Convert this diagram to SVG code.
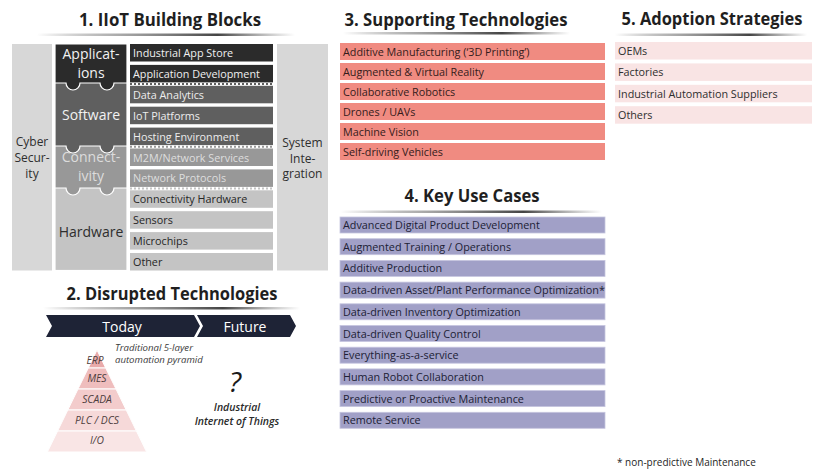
<svg xmlns="http://www.w3.org/2000/svg" width="819" height="471" viewBox="0 0 819 471">
  <defs>
    <linearGradient id="rule" x1="0" y1="0" x2="1" y2="0">
      <stop offset="0" stop-color="#666" stop-opacity="0"/>
      <stop offset="0.25" stop-color="#888" stop-opacity="0.6"/>
      <stop offset="0.7" stop-color="#444" stop-opacity="1"/>
      <stop offset="1" stop-color="#666" stop-opacity="0"/>
    </linearGradient>
  </defs>
  <style>
    text { font-family: "Open Sans", "Liberation Sans", sans-serif; }
    .title { font-size: 18px; font-weight: bold; fill: #1f1f1f; text-anchor: middle; }
    .item { font-size: 10.8px; }
    .side { fill: #d7d7d7; }
    .sideTxt { font-size: 12px; fill: #2e2e2e; text-anchor: middle; }
    .layerTxt { font-size: 14px; text-anchor: middle; }
    .app { fill: #2b2b2b; }
    .sw { fill: #5f5f5f; }
    .con { fill: #989898; }
    .hw { fill: #c4c4c4; }
    .layer { stroke: #fff; stroke-width: 1.2; }
    .dots { stroke-width: 2; stroke-dasharray: 2 2; }
    .sup { fill: #f08b81; }
    .supTxt { fill: #341b1b; }
    .use { fill: #a1a0c7; stroke: #c6c5df; stroke-width: 0.8; }
    .useTxt { fill: #202035; }
    .ado { fill: #f9e4e4; }
    .adoTxt { fill: #2e2e2e; }
    .pyr { stroke: #fff; stroke-width: 1; }
    .pyrTxt { font-size: 10.3px; font-style: italic; fill: #4e3e3e; text-anchor: middle; }
    .note { font-size: 9.6px; font-style: italic; fill: #3a3a3a; }
    .iiot { font-size: 10.5px; font-weight: 600; font-style: italic; fill: #2a2a2a; text-anchor: middle; }
  </style>

  <!-- ===== 1. IIoT Building Blocks ===== -->
  <g id="sec1-title">
    <text class="title" x="170" y="26" textLength="182" lengthAdjust="spacingAndGlyphs">1. IIoT Building Blocks</text>
    <rect x="37" y="33.5" width="258" height="2.5" fill="url(#rule)"/>
  </g>

  <g id="cyber-security">
    <rect class="side" x="12" y="44" width="40" height="226.5"/>
    <text class="sideTxt" x="32" y="146">Cyber</text>
    <text class="sideTxt" x="32" y="162">Secur-</text>
    <text class="sideTxt" x="32" y="178">ity</text>
  </g>

  <g id="system-integration">
    <rect class="side" x="277" y="44" width="51" height="226.5"/>
    <text class="sideTxt" x="302.5" y="147">System</text>
    <text class="sideTxt" x="302.5" y="162.5">Inte-</text>
    <text class="sideTxt" x="302.5" y="178">gration</text>
  </g>

  <!-- stacked layers, drawn bottom-up so each layer's tabs overlap the one below -->
  <g id="layer-hardware">
    <rect class="hw layer" x="55" y="185" width="72" height="85.5"/>
    <text class="layerTxt" x="91" y="237" fill="#2e2e2e">Hardware</text>
  </g>
  <g id="layer-connectivity">
    <path class="con layer" d="M55,141 H127 V188 H114 A7,7 0 0 1 100,188 H80 A7,7 0 0 1 66,188 H55 Z"/>
    <text class="layerTxt" x="91" y="162" fill="#dcdcdc">Connect-</text>
    <text class="layerTxt" x="91" y="180.5" fill="#dcdcdc">ivity</text>
  </g>
  <g id="layer-software">
    <path class="sw layer" d="M55,80 H127 V146 H114 A7,7 0 0 1 100,146 H80 A7,7 0 0 1 66,146 H55 Z"/>
    <text class="layerTxt" x="91" y="120" fill="#f2f2f2">Software</text>
  </g>
  <g id="layer-applications">
    <path class="app layer" d="M55,44 H127 V83 H114 A7,7 0 0 1 100,83 H80 A7,7 0 0 1 66,83 H55 Z"/>
    <text class="layerTxt" x="91" y="59" fill="#f2f2f2">Applicat-</text>
    <text class="layerTxt" x="91" y="78" fill="#f2f2f2">ions</text>
  </g>

  <g id="block-items">
    <g id="item-app-store"><rect class="app" x="130" y="44" width="143" height="17.5"/><text class="item" x="133" y="57" fill="#f0f0f0">Industrial App Store</text></g>
    <g id="item-app-dev"><rect class="app" x="130" y="64.9" width="143" height="17.5"/><text class="item" x="133" y="77.9" fill="#f0f0f0">Application Development</text></g>
    <g id="item-analytics"><rect class="sw" x="130" y="85.8" width="143" height="17.5"/><text class="item" x="133" y="98.8" fill="#ededed">Data Analytics</text></g>
    <g id="item-iot-platforms"><rect class="sw" x="130" y="106.7" width="143" height="17.5"/><text class="item" x="133" y="119.7" fill="#ededed">IoT Platforms</text></g>
    <g id="item-hosting"><rect class="sw" x="130" y="127.6" width="143" height="17.5"/><text class="item" x="133" y="140.6" fill="#ededed">Hosting Environment</text></g>
    <g id="item-m2m"><rect class="con" x="130" y="148.5" width="143" height="17.5"/><text class="item" x="133" y="161.5" fill="#dedede">M2M/Network Services</text></g>
    <g id="item-protocols"><rect class="con" x="130" y="169.4" width="143" height="17.5"/><text class="item" x="133" y="182.4" fill="#dedede">Network Protocols</text></g>
    <g id="item-conn-hw"><rect class="hw" x="130" y="190.3" width="143" height="17.5"/><text class="item" x="133" y="203.3" fill="#262626">Connectivity Hardware</text></g>
    <g id="item-sensors"><rect class="hw" x="130" y="211.2" width="143" height="17.5"/><text class="item" x="133" y="224.2" fill="#262626">Sensors</text></g>
    <g id="item-microchips"><rect class="hw" x="130" y="232.1" width="143" height="17.5"/><text class="item" x="133" y="245.1" fill="#262626">Microchips</text></g>
    <g id="item-other"><rect class="hw" x="130" y="253" width="143" height="17.5"/><text class="item" x="133" y="266" fill="#262626">Other</text></g>
  </g>

  <!-- dotted seams between layers -->
  <g id="connectors">
    <line class="dots" x1="130" y1="84.1" x2="273" y2="84.1" stroke="#5f5f5f"/>
    <line class="dots" x1="130" y1="146.8" x2="273" y2="146.8" stroke="#989898"/>
    <line class="dots" x1="130" y1="188.6" x2="273" y2="188.6" stroke="#c4c4c4"/>
  </g>

  <!-- ===== 2. Disrupted Technologies ===== -->
  <g id="sec2-title">
    <text class="title" x="172" y="300" textLength="211" lengthAdjust="spacingAndGlyphs">2. Disrupted Technologies</text>
    <rect x="43" y="307" width="257" height="2.5" fill="url(#rule)"/>
  </g>

  <g id="today">
    <polygon points="46,315 194,315 200,326 194,337 46,337 52,326" fill="#1e2336"/>
    <text x="122" y="332" font-size="14" fill="#fff" text-anchor="middle">Today</text>
  </g>
  <g id="future">
    <polygon points="197,315 290,315 296,326 290,337 197,337 203,326" fill="#1e2336"/>
    <text x="245" y="332" font-size="14" fill="#fff" text-anchor="middle">Future</text>
  </g>

  <g id="pyramid">
    <polygon class="pyr" points="97,350 105.7,368 88.3,368" fill="#e9aaaa"/>
    <polygon class="pyr" points="88.3,368 105.7,368 116,389 78,389" fill="#efbdbd"/>
    <polygon class="pyr" points="78,389 116,389 126.2,410 67.8,410" fill="#f3cccc"/>
    <polygon class="pyr" points="67.8,410 126.2,410 136.4,431 57.6,431" fill="#f6d9d9"/>
    <polygon class="pyr" points="57.6,431 136.4,431 146.6,452 47.4,452" fill="#f9e5e5"/>
    <text class="pyrTxt" x="95" y="364">ERP</text>
    <text class="pyrTxt" x="97" y="382">MES</text>
    <text class="pyrTxt" x="97" y="403">SCADA</text>
    <text class="pyrTxt" x="97" y="424">PLC / DCS</text>
    <text class="pyrTxt" x="97" y="444">I/O</text>
    <text class="note" x="115" y="351">Traditional 5-layer</text>
    <text class="note" x="115" y="363">automation pyramid</text>
  </g>

  <g id="iiot">
    <text x="235" y="392" font-size="28" font-style="italic" fill="#1a1a1a" text-anchor="middle">?</text>
    <text class="iiot" x="237" y="411">Industrial</text>
    <text class="iiot" x="237" y="424.5">Internet of Things</text>
  </g>

  <!-- ===== 3. Supporting Technologies ===== -->
  <g id="sec3-title">
    <text class="title" x="456" y="26" textLength="223" lengthAdjust="spacingAndGlyphs">3. Supporting Technologies</text>
    <rect x="343" y="32" width="227" height="2.5" fill="url(#rule)"/>
  </g>
  <g id="supporting">
    <g id="sup-am"><rect class="sup" x="340" y="43" width="265" height="17"/><text class="item supTxt" x="343" y="55.5">Additive Manufacturing (‘3D Printing’)</text></g>
    <g id="sup-ar"><rect class="sup" x="340" y="63" width="265" height="17"/><text class="item supTxt" x="343" y="75.5">Augmented &amp; Virtual Reality</text></g>
    <g id="sup-robotics"><rect class="sup" x="340" y="83" width="265" height="17"/><text class="item supTxt" x="343" y="95.5">Collaborative Robotics</text></g>
    <g id="sup-drones"><rect class="sup" x="340" y="103" width="265" height="17"/><text class="item supTxt" x="343" y="115.5">Drones / UAVs</text></g>
    <g id="sup-vision"><rect class="sup" x="340" y="123" width="265" height="17"/><text class="item supTxt" x="343" y="135.5">Machine Vision</text></g>
    <g id="sup-vehicles"><rect class="sup" x="340" y="143" width="265" height="17"/><text class="item supTxt" x="343" y="155.5">Self-driving Vehicles</text></g>
  </g>

  <!-- ===== 4. Key Use Cases ===== -->
  <g id="sec4-title">
    <text class="title" x="472" y="202" textLength="135" lengthAdjust="spacingAndGlyphs">4. Key Use Cases</text>
    <rect x="340" y="210.5" width="262" height="2.5" fill="url(#rule)"/>
  </g>
  <g id="use-cases">
    <g id="uc-1"><rect class="use" x="340" y="217" width="265" height="16"/><text class="item useTxt" x="343" y="229">Advanced Digital Product Development</text></g>
    <g id="uc-2"><rect class="use" x="340" y="238.7" width="265" height="16"/><text class="item useTxt" x="343" y="250.7">Augmented Training / Operations</text></g>
    <g id="uc-3"><rect class="use" x="340" y="260.4" width="265" height="16"/><text class="item useTxt" x="343" y="272.4">Additive Production</text></g>
    <g id="uc-4"><rect class="use" x="340" y="282.1" width="265" height="16"/><text class="item useTxt" x="343" y="294.1" textLength="262" lengthAdjust="spacingAndGlyphs">Data-driven Asset/Plant Performance Optimization*</text></g>
    <g id="uc-5"><rect class="use" x="340" y="303.8" width="265" height="16"/><text class="item useTxt" x="343" y="315.8">Data-driven Inventory Optimization</text></g>
    <g id="uc-6"><rect class="use" x="340" y="325.5" width="265" height="16"/><text class="item useTxt" x="343" y="337.5">Data-driven Quality Control</text></g>
    <g id="uc-7"><rect class="use" x="340" y="347.2" width="265" height="16"/><text class="item useTxt" x="343" y="359.2">Everything-as-a-service</text></g>
    <g id="uc-8"><rect class="use" x="340" y="368.9" width="265" height="16"/><text class="item useTxt" x="343" y="380.9">Human Robot Collaboration</text></g>
    <g id="uc-9"><rect class="use" x="340" y="390.6" width="265" height="16"/><text class="item useTxt" x="343" y="402.6">Predictive or Proactive Maintenance</text></g>
    <g id="uc-10"><rect class="use" x="340" y="412.3" width="265" height="16"/><text class="item useTxt" x="343" y="424.3">Remote Service</text></g>
  </g>

  <!-- ===== 5. Adoption Strategies ===== -->
  <g id="sec5-title">
    <text class="title" x="712" y="25" textLength="181" lengthAdjust="spacingAndGlyphs">5. Adoption Strategies</text>
    <rect x="615" y="33.5" width="192" height="2.5" fill="url(#rule)"/>
  </g>
  <g id="adoption">
    <g id="ado-oems"><rect class="ado" x="615" y="42" width="197" height="17.5"/><text class="item adoTxt" x="618" y="55">OEMs</text></g>
    <g id="ado-factories"><rect class="ado" x="615" y="63.4" width="197" height="17.5"/><text class="item adoTxt" x="618" y="76.4">Factories</text></g>
    <g id="ado-suppliers"><rect class="ado" x="615" y="84.8" width="197" height="17.5"/><text class="item adoTxt" x="618" y="97.8">Industrial Automation Suppliers</text></g>
    <g id="ado-others"><rect class="ado" x="615" y="106.2" width="197" height="17.5"/><text class="item adoTxt" x="618" y="119.2">Others</text></g>
  </g>

  <g id="footnote">
    <text x="617" y="466" font-size="10" fill="#1e1e1e">* non-predictive Maintenance</text>
  </g>
</svg>
